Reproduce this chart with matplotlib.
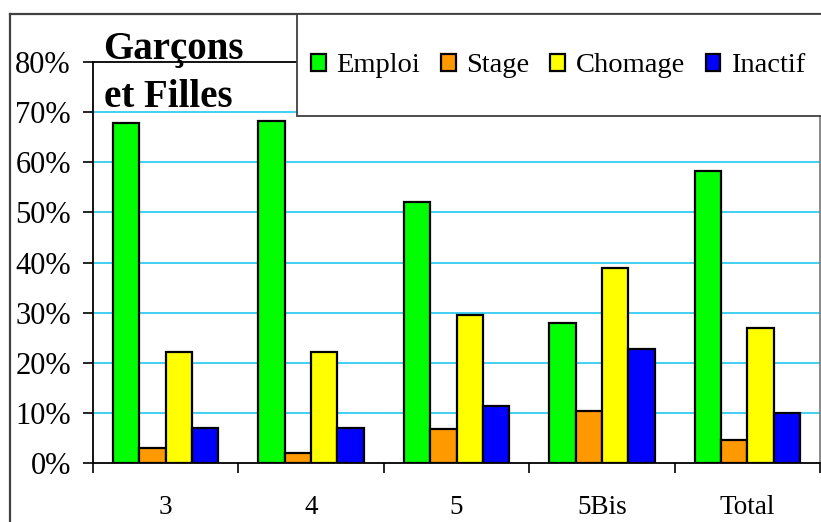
import matplotlib.pyplot as plt
import numpy as np
from matplotlib.patches import Rectangle
from matplotlib.lines import Line2D

# donnees
categories = ['3', '4', '5', '5Bis', 'Total']
series = ['Emploi', 'Stage', 'Chomage', 'Inactif']
emploi = [0.679, 0.683, 0.521, 0.280, 0.582]
stage = [0.030, 0.021, 0.068, 0.104, 0.046]
chomage = [0.222, 0.222, 0.296, 0.390, 0.270]
inactif = [0.070, 0.070, 0.114, 0.227, 0.100]
couleurs = ['#00FF00', '#FF9900', '#FFFF00', '#0000FF']
y_ticks = [0, 0.1, 0.2, 0.3, 0.4, 0.5, 0.6, 0.7, 0.8]
y_labels = ['0%', '10%', '20%', '30%', '40%', '50%', '60%', '70%', '80%']

plt.rcParams['font.family'] = ['Liberation Serif', 'DejaVu Serif']

W, H = 821, 522
fig = plt.figure(figsize=(W / 100, H / 100), dpi=100)
ax = fig.add_axes([93 / W, 1 - 463.3 / H, (820 - 93) / W, (463.3 - 62) / H])

x = np.arange(len(categories)) + 0.5
largeur = 0.181
valeurs = [emploi, stage, chomage, inactif]
barres = []
for k in range(4):
    b = ax.bar(x + (k - 1.5) * largeur, valeurs[k], largeur, color=couleurs[k],
               edgecolor='black', linewidth=1.6, label=series[k], zorder=3)
    barres.append(b)

ax.set_xlim(0, len(categories))
ax.set_ylim(0, 0.8)
ax.set_yticks(y_ticks)
ax.set_yticklabels(y_labels, fontsize=22)
ax.tick_params(axis='y', direction='out', length=7, width=1.2, pad=9)
ax.set_xticks(np.arange(len(categories) + 1))
ax.set_xticklabels([])
ax.set_xticks(x, minor=True)
ax.set_xticklabels(categories, minor=True, fontsize=19.5)
ax.tick_params(axis='x', which='major', direction='out', length=7, width=1.2)
ax.tick_params(axis='x', which='minor', length=0, pad=23)

for v in y_ticks[1:-1]:
    ax.axhline(v, color='#33CCF0', linewidth=1.3, zorder=1)

for s in ['left', 'bottom', 'top']:
    ax.spines[s].set_color('black')
    ax.spines[s].set_linewidth(1.3)
ax.spines['right'].set_color('#808080')
ax.spines['right'].set_linewidth(1.3)

# cadre exterieur
fig.add_artist(Line2D([10 / W, 10 / W], [0, 1 - 14 / H], color='#404040', linewidth=1.6))
fig.add_artist(Line2D([10 / W, 1], [1 - 14 / H, 1 - 14 / H], color='#404040', linewidth=1.6))

# boite de legende
fig.add_artist(Rectangle((297 / W, 1 - 116 / H), (W + 10 - 297) / W, 102 / H,
                         transform=fig.transFigure, facecolor='white',
                         edgecolor='#404040', linewidth=1.3, zorder=5))
leg = fig.legend(handles=barres, labels=series, ncol=4, loc='center left',
                 bbox_to_anchor=(311 / W, 1 - 66 / H), frameon=False, fontsize=20.5,
                 handlelength=0.52, handleheight=0.52, handletextpad=0.38,
                 columnspacing=0.72, borderpad=0, borderaxespad=0)
leg.set_zorder(6)

# titre
fig.text(103 / W, 1 - 59 / H, 'Garçons', fontsize=28, fontweight='bold', va='baseline')
fig.text(104 / W, 1 - 107 / H, 'et Filles', fontsize=28, fontweight='bold', va='baseline')

fig.savefig('out.png', dpi=100)
